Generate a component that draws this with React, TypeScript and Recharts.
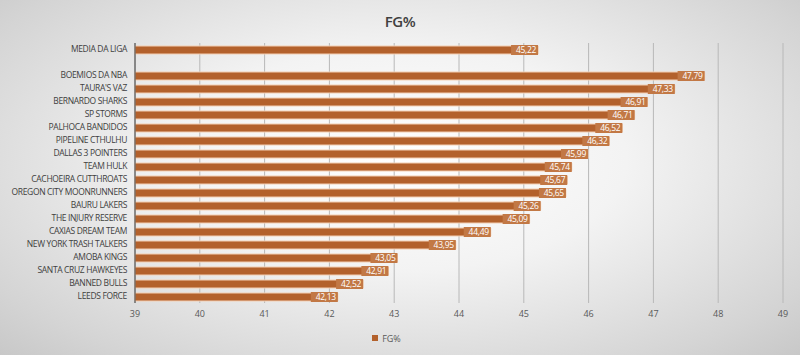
import { BarChart, Bar, XAxis, YAxis, CartesianGrid, Legend, LabelList } from 'recharts'

const teams = [
  'MEDIA DA LIGA',
  ' ',
  'BOEMIOS DA NBA',
  "TAURA'S VAZ",
  'BERNARDO SHARKS',
  'SP STORMS',
  'PALHOCA BANDIDOS',
  'PIPELINE CTHULHU',
  'DALLAS 3 POINTERS',
  'TEAM HULK',
  'CACHOEIRA CUTTHROATS',
  'OREGON CITY MOONRUNNERS',
  'BAURU LAKERS',
  'THE INJURY RESERVE',
  'CAXIAS DREAM TEAM',
  'NEW YORK TRASH TALKERS',
  'AMOBA KINGS',
  'SANTA CRUZ HAWKEYES',
  'BANNED BULLS',
  'LEEDS FORCE',
]

const fgPct = [
  45.22, null, 47.79, 47.33, 46.91, 46.71, 46.52, 46.32, 45.99, 45.74, 45.67, 45.65, 45.26, 45.09,
  44.49, 43.95, 43.05, 42.91, 42.52, 42.13,
]

const xTicks = [39, 40, 41, 42, 43, 44, 45, 46, 47, 48, 49]

const data = teams.map((team, i) => ({ team, fg: fgPct[i] }))

const BAR = '#b3612c'
const FONT = '"Open Sans", sans-serif'

const fmt = (v: number) => v.toFixed(2).replace('.', ',')

function ValueLabel(props: any) {
  const { x, y, width, height, value } = props
  if (value == null) return null
  const right = x + width
  const cy = y + height / 2
  return (
    <g>
      <rect x={right - 27} y={cy - 5} width={27} height={10} fill="#c27845" />
      <text
        x={right - 2}
        y={cy}
        dy="0.35em"
        textAnchor="end"
        fontSize={8.5}
        letterSpacing={-0.3}
        fill="#ffffff"
        fontFamily={FONT}
      >
        {fmt(value)}
      </text>
    </g>
  )
}

function TeamTick(props: any) {
  const { x, y, payload } = props
  return (
    <text
      x={x}
      y={y}
      dy="0.35em"
      textAnchor="end"
      fontSize={8.5}
      letterSpacing={-0.35}
      fill="#404040"
      fontFamily={FONT}
    >
      {payload.value}
    </text>
  )
}

export default function App() {
  return (
    <div
      style={{
        width: 800,
        height: 355,
        position: 'relative',
        background: 'radial-gradient(ellipse at 50% 45%, #ffffff 0%, #f3f3f3 40%, #d4d4d4 85%, #c8c8c8 100%)',
        fontFamily: FONT,
      }}
    >
      <style>{'body{margin:0}'}</style>
      <div
        style={{
          position: 'absolute',
          top: 11,
          width: 800,
          textAlign: 'center',
          fontSize: 15,
          fontWeight: 600,
          letterSpacing: -0.5,
          color: '#404040',
        }}
      >
        FG%
      </div>
      <BarChart
        width={800}
        height={355}
        data={data}
        layout="vertical"
        margin={{ top: 43, right: 17, left: 0, bottom: 8 }}
        barSize={8}
      >
        <CartesianGrid horizontal={false} stroke="#b8b8b8" />
        <XAxis
          type="number"
          domain={[39, 49]}
          ticks={xTicks}
          axisLine={false}
          tickLine={false}
          height={22}
          tick={{ fontSize: 9, fill: '#595959', fontFamily: FONT }}
        />
        <YAxis
          type="category"
          dataKey="team"
          width={135}
          interval={0}
          tickLine={false}
          axisLine={{ stroke: '#404040' }}
          tick={<TeamTick />}
        />
        <Legend
          verticalAlign="bottom"
          iconType="square"
          iconSize={6}
          formatter={(v) => <span style={{ color: '#595959', fontSize: 9 }}>{v}</span>}
        />
        <Bar dataKey="fg" name="FG%" fill={BAR} stroke="#f3cfb3" strokeWidth={1} isAnimationActive={false}>
          <LabelList dataKey="fg" content={<ValueLabel />} />
        </Bar>
      </BarChart>
    </div>
  )
}
